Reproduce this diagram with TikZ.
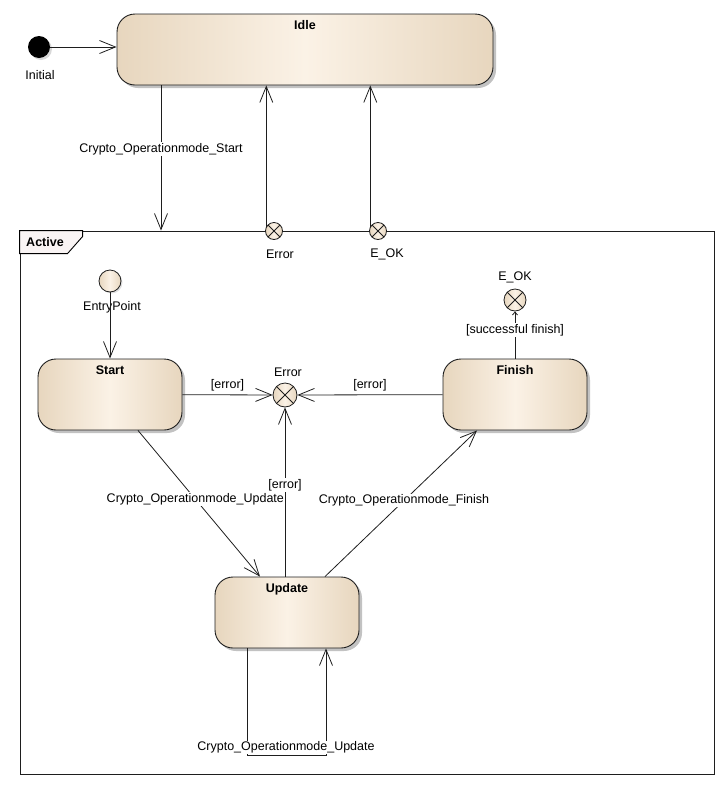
\documentclass[tikz,border=0pt]{standalone}
\usepackage{fontspec}
\setmainfont{Liberation Sans}
\usetikzlibrary{arrows.meta,shadows}

\definecolor{tanedge}{RGB}{231,214,190}
\definecolor{tanmid}{RGB}{251,242,230}
\definecolor{tabfill}{RGB}{249,244,244}
\definecolor{lineblk}{RGB}{30,30,30}

\newcommand{\diagfont}{\fontsize{12.5}{15}\selectfont}

\tikzset{
  state/.style={draw=lineblk, line width=0.9pt, rounded corners=18pt,
    minimum width=144pt, minimum height=71pt,
    left color=tanedge, right color=tanedge, middle color=tanmid,
    drop shadow={shadow xshift=3pt, shadow yshift=-3pt, fill=black!40, opacity=0.6}},
  title/.style={font=\diagfont\bfseries, anchor=north, inner sep=7pt},
  pseudo/.style={circle, draw=lineblk, line width=0.8pt, inner sep=0pt, minimum size=#1,
    left color=tanedge, right color=tanedge, middle color=tanmid},
  exitpt/.style={pseudo=#1,
    path picture={\draw[line width=0.8pt] (path picture bounding box.north west) -- (path picture bounding box.south east)
      (path picture bounding box.north east) -- (path picture bounding box.south west);}},
  lbl/.style={fill=white, inner sep=1pt},
  trans/.style={draw=lineblk, line width=0.8pt, -{Straight Barb[length=16pt,width=13pt]}}
}

\begin{document}
\begin{tikzpicture}[x=1pt,y=1pt,yscale=-1,font=\diagfont]
  \useasboundingbox (0,0) rectangle (726,788);

  %Shape: Initial [id:initial]
  \node[circle, fill=black, minimum size=22pt, inner sep=0pt,
    drop shadow={shadow xshift=2pt, shadow yshift=-2pt, fill=black!30}] (init) at (39,47) {};
  % Text Node
  \node (initlbl) at (40,75) {Initial};

  %Shape: State [id:idle]
  \node[state, minimum width=376pt, label={[title]north:Idle}] (idle) at (305,49.5) {};

  %Shape: Frame [id:active]
  \node[draw=lineblk, line width=0.9pt, minimum width=694pt, minimum height=543pt, inner sep=0pt] (active) at (367,502.5) {};
  \draw[line width=0.9pt, fill=tabfill] (active.north west) -- ++(63,0) -- ++(0,6) -- ++(-15,17) -| (active.north west) -- cycle;
  \node[font=\diagfont\bfseries] (activelbl) at (45,242) {Active};

  %Shape: Exit points on frame
  \node[exitpt=17pt] (xerr) at (274,231) {};
  \node[exitpt=17pt] (xok) at (378,231) {};
  \node (xerrlbl) at (280,254) {Error};
  \node (xoklbl) at (387,254) {E\_OK};

  %Shape: Entry point
  \node[pseudo=22pt, drop shadow={shadow xshift=1.5pt, shadow yshift=-1.5pt, fill=black!25}] (entry) at (110,281) {};
  \node (entrylbl) at (112,307) {EntryPoint};

  %Shape: States in Active
  \node[state, label={[title]north:Start}] (start) at (110,394.5) {};
  \node[state, label={[title]north:Finish}] (finish) at (515,394.5) {};
  \node[state, label={[title]north:Update}] (update) at (287,612.5) {};

  %Shape: Inner exit points
  \node[exitpt=24pt] (err) at (285,395) {};
  \node (errlbl) at (288,372) {Error};
  \node[exitpt=22pt] (eok) at (515,300) {};
  \node (eoklbl) at (515,277) {E\_OK};

  %Straight Lines
  \draw[trans] (init) -- (init -| idle.west);
  \draw[trans] ([xshift=-144pt]idle.south) -- ([xshift=-144pt]idle.south |- active.north)
    node[lbl, pos=0.44] {Crypto\_Operationmode\_Start};
  \draw[trans] (xerr.150) -- (xerr.150 |- idle.south);
  \draw[trans] (xok.150) -- (xok.150 |- idle.south);
  \draw[trans] (entry) -- (start);
  \draw[trans] (start) -- (err) node[lbl, midway, above=2pt] {[error]};
  \draw[trans] (finish) -- (err) node[lbl, midway, above=2pt] {[error]};
  \draw[trans] (update.north -| err) -- (err) node[lbl, pos=0.54] {[error]};
  \draw[trans] ([xshift=28pt]start.south) -- ([xshift=-27pt]update.north)
    node[lbl, pos=0.47] {Crypto\_Operationmode\_Update};
  \draw[trans] ([xshift=38pt]update.north) -- ([xshift=-38pt]finish.south)
    node[lbl, pos=0.52] {Crypto\_Operationmode\_Finish};
  \draw[draw=lineblk, line width=0.8pt, -{Straight Barb[length=3pt,width=5pt]}] (finish) -- (eok)
    node[lbl, pos=0.6] {[successful finish]};
  \draw[trans] ([xshift=-40pt]update.south) -- ++(0,107) coordinate (loopbot)
    -| ([xshift=39pt]update.south);
  \node[lbl, above=1pt] (looplbl) at ([xshift=39pt]loopbot) {Crypto\_Operationmode\_Update};

\end{tikzpicture}
\end{document}
